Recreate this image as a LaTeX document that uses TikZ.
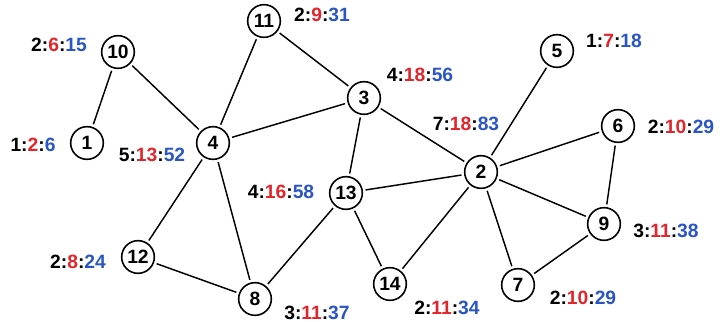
\documentclass[tikz,border=0pt]{standalone}
\usepackage{fontspec}
\setmainfont{Liberation Sans}
\definecolor{hopred}{HTML}{E3242B}
\definecolor{hopblue}{HTML}{2A55C2}
\newcommand{\tri}[3]{#1:\textcolor{hopred}{#2}:\textcolor{hopblue}{#3}}

\begin{document}
\begin{tikzpicture}[x=0.75bp,y=-0.75bp,font=\bfseries\fontsize{14.5}{16}\selectfont,
  vtx/.style={draw,circle,line width=1.2pt,minimum size=24.5bp,inner sep=0pt},
  lbl/.style={inner sep=0pt},
  edge/.style={line width=1.1pt,shorten >=2pt,shorten <=2pt}]
  \useasboundingbox (0,0) rectangle (727,322);
  % vertices
  \node[vtx] (n1)  at (87,143)  {1};
  \node[vtx] (n2)  at (481,172) {2};
  \node[vtx] (n3)  at (364,98)  {3};
  \node[vtx] (n4)  at (213,143) {4};
  \node[vtx] (n5)  at (557,51)  {5};
  \node[vtx] (n6)  at (618,126) {6};
  \node[vtx] (n7)  at (518,285) {7};
  \node[vtx] (n8)  at (255,299) {8};
  \node[vtx] (n9)  at (604,224) {9};
  \node[vtx] (n10) at (118,52)  {10};
  \node[vtx] (n11) at (264,21)  {11};
  \node[vtx] (n12) at (138,257) {12};
  \node[vtx] (n13) at (346,193) {13};
  \node[vtx] (n14) at (390,284) {14};
  % edges
  \foreach \a/\b in {10/1,10/4,11/4,11/3,4/3,4/12,4/8,12/8,8/13,3/13,
                     3/2,13/2,13/14,2/14,2/5,2/6,2/9,2/7,6/9,9/7}
    \draw[edge] (n\a) -- (n\b);
  % labels
  \node[lbl] (l1)  at (33,145)  {\tri{1}{2}{6}};
  \node[lbl] (l2)  at (466,124) {\tri{7}{18}{83}};
  \node[lbl] (l3)  at (420,75)  {\tri{4}{18}{56}};
  \node[lbl] (l4)  at (152,155) {\tri{5}{13}{52}};
  \node[lbl] (l5)  at (614,41)  {\tri{1}{7}{18}};
  \node[lbl] (l6)  at (681,127) {\tri{2}{10}{29}};
  \node[lbl] (l7)  at (583,298) {\tri{2}{10}{29}};
  \node[lbl] (l8)  at (317,313) {\tri{3}{11}{37}};
  \node[lbl] (l9)  at (666,231) {\tri{3}{11}{38}};
  \node[lbl] (l10) at (59,45)   {\tri{2}{6}{15}};
  \node[lbl] (l11) at (322,15)  {\tri{2}{9}{31}};
  \node[lbl] (l12) at (78,262)  {\tri{2}{8}{24}};
  \node[lbl] (l13) at (281,192) {\tri{4}{16}{58}};
  \node[lbl] (l14) at (447,308) {\tri{2}{11}{34}};
\end{tikzpicture}
\end{document}
